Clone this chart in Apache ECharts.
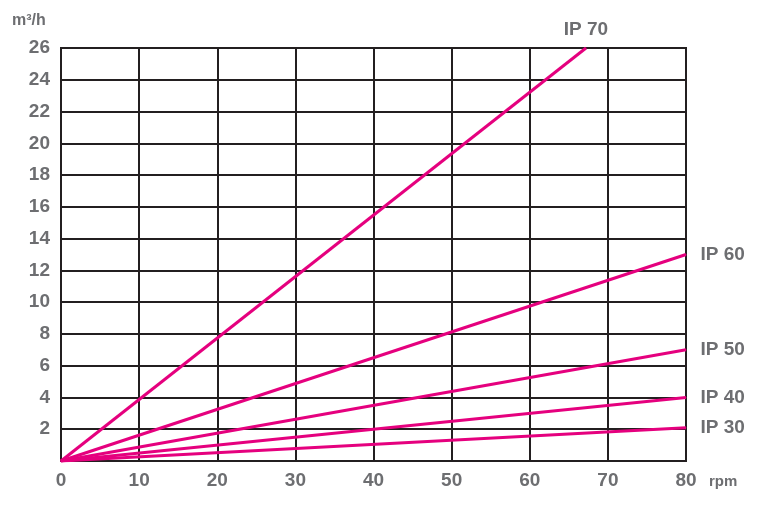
<!DOCTYPE html>
<html>
<head>
<meta charset="utf-8">
<script src="https://cdn.jsdelivr.net/npm/echarts@6/dist/echarts.min.js"></script>
<style>
  html, body { margin: 0; padding: 0; background: #fff; }
  #chart { width: 770px; height: 512px; }
</style>
</head>
<body>
<div id="chart"></div>
<script>
// curvas de caudal por modelo (lineas rectas desde el origen)
var modelos = ["IP 70", "IP 60", "IP 50", "IP 40", "IP 30"];
var rpmInicio = [0, 0, 0, 0, 0];
var caudalInicio = [0, 0, 0, 0, 0];
var rpmFin = [67.2, 80, 80, 80, 80];
var caudalFin = [26, 13, 7, 4.0, 2.1];
var ticksX = [0, 10, 20, 30, 40, 50, 60, 70, 80];
var ticksY = [2, 4, 6, 8, 10, 12, 14, 16, 18, 20, 22, 24, 26];

document.addEventListener("DOMContentLoaded", () => {
  var chart = echarts.init(document.querySelector("#chart"));
  var gris = "#6d6e71";
  var negro = "#231f20";
  var magenta = "#e5007e";
  var fuente = "Liberation Sans";

  var series = modelos.map(function (nombre, i) {
    var arriba = i === 0;
    return {
      name: nombre,
      type: "line",
      symbol: "circle",
      symbolSize: 1,
      showSymbol: true,
      silent: true,
      itemStyle: { color: magenta },
      lineStyle: { color: magenta, width: 3 },
      z: 5,
      data: [
        [rpmInicio[i], caudalInicio[i]],
        {
          value: [rpmFin[i], caudalFin[i]],
          label: {
            show: true,
            formatter: nombre,
            position: arriba ? "top" : "right",
            distance: arriba ? 8 : 14,
            color: gris,
            fontFamily: fuente,
            fontWeight: "bold",
            fontSize: 19
          }
        }
      ]
    };
  });

  chart.setOption({
    animation: false,
    grid: { left: 61, right: 84, top: 48, bottom: 51 },
    xAxis: {
      type: "value",
      min: 0,
      max: 80,
      interval: 10,
      axisLine: { show: true, lineStyle: { color: negro, width: 2 } },
      axisTick: { show: false },
      splitLine: { show: true, lineStyle: { color: negro, width: 2 } },
      axisLabel: {
        color: gris,
        fontFamily: fuente,
        fontWeight: "bold",
        fontSize: 19,
        margin: 10,
        formatter: function (v) { return ticksX.indexOf(v) >= 0 ? String(v) : ""; }
      }
    },
    yAxis: {
      type: "value",
      min: 0,
      max: 26,
      interval: 2,
      axisLine: { show: true, lineStyle: { color: negro, width: 2 } },
      axisTick: { show: false },
      splitLine: { show: true, lineStyle: { color: negro, width: 2 } },
      axisLabel: {
        color: gris,
        fontFamily: fuente,
        fontWeight: "bold",
        fontSize: 19,
        margin: 11,
        formatter: function (v) { return ticksY.indexOf(v) >= 0 ? String(v) : ""; }
      }
    },
    graphic: [
      {
        type: "text",
        left: 12,
        top: 13,
        style: { text: "m³/h", fill: gris, font: "bold 16px 'Liberation Sans'" }
      },
      {
        type: "text",
        left: 709,
        top: 474,
        style: { text: "rpm", fill: gris, font: "bold 15px 'Liberation Sans'" }
      },
      {
        // borde derecho y superior del area
        type: "rect",
        shape: { x: 61, y: 48, width: 625, height: 413 },
        style: { fill: "none", stroke: negro, lineWidth: 2 },
        z: 1
      }
    ],
    series: series
  });
});
</script>
</body>
</html>
